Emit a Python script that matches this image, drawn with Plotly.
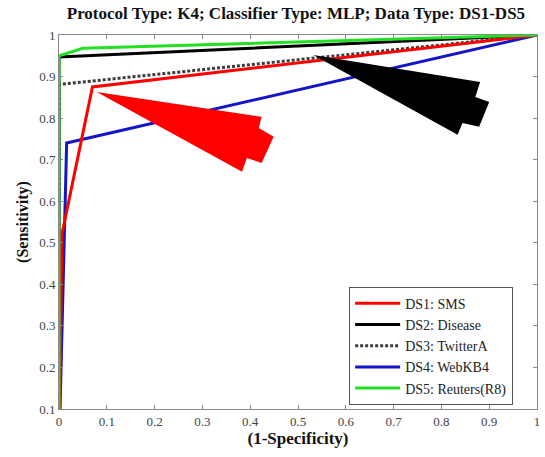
import plotly.graph_objects as go

# ROC curves (1-specificity, sensitivity) per data set
ds1_x = [0.0, 0.006, 0.07, 1.0]
ds1_y = [0.0, 0.52, 0.875, 1.0]
ds2_x = [0.0, 0.0, 1.0]
ds2_y = [0.0, 0.947, 1.0]
ds3_x = [0.0, 0.0, 1.0]
ds3_y = [0.0, 0.881, 1.0]
ds4_x = [0.0, 0.016, 1.0]
ds4_y = [0.0, 0.74, 1.0]
ds5_x = [0.0, 0.0, 0.05, 1.0]
ds5_y = [0.0, 0.95, 0.968, 1.0]

names = ["DS1: SMS", "DS2: Disease", "DS3: TwitterA", "DS4: WebKB4", "DS5: Reuters(R8)"]

# Pointer shapes (data coordinates)
red_arrow_x = [0.079, 0.424, 0.418, 0.449, 0.424, 0.393, 0.383, 0.079]
red_arrow_y = [0.863, 0.803, 0.776, 0.755, 0.692, 0.704, 0.671, 0.863]
black_arrow_x = [0.532, 0.881, 0.871, 0.900, 0.879, 0.844, 0.834, 0.532]
black_arrow_y = [0.952, 0.887, 0.851, 0.839, 0.779, 0.788, 0.760, 0.952]

x_ticks = [0, 0.1, 0.2, 0.3, 0.4, 0.5, 0.6, 0.7, 0.8, 0.9, 1]
x_tick_text = ["0", "0.1", "0.2", "0.3", "0.4", "0.5", "0.6", "0.7", "0.8", "0.9", "1"]
y_ticks = [0.1, 0.2, 0.3, 0.4, 0.5, 0.6, 0.7, 0.8, 0.9, 1]
y_tick_text = ["0.1", "0.2", "0.3", "0.4", "0.5", "0.6", "0.7", "0.8", "0.9", "1"]

SERIF = "Liberation Serif, Times New Roman, serif"

fig = go.Figure()

series = [
    (ds3_x, ds3_y, names[2], dict(color="#3c3c3c", width=3, dash="3px,2px"), 3),
    (ds2_x, ds2_y, names[1], dict(color="#000000", width=3), 2),
    (ds4_x, ds4_y, names[3], dict(color="#1414c8", width=3), 4),
    (ds1_x, ds1_y, names[0], dict(color="#ff0000", width=3), 1),
    (ds5_x, ds5_y, names[4], dict(color="#22e022", width=3), 5),
]
for xs, ys, nm, ln, rank in series:
    fig.add_trace(go.Scatter(x=xs, y=ys, mode="lines", name=nm, line=ln,
                             legendrank=rank))

for ax, ay, col in [(red_arrow_x, red_arrow_y, "#ff0000"),
                    (black_arrow_x, black_arrow_y, "#000000")]:
    fig.add_trace(go.Scatter(x=ax, y=ay, mode="lines", fill="toself",
                             fillcolor=col, line=dict(width=0, color=col),
                             showlegend=False, hoverinfo="skip"))

fig.update_layout(
    width=545, height=457, autosize=False,
    margin=dict(l=59, r=5, t=35, b=48),
    paper_bgcolor="white", plot_bgcolor="white",
    font=dict(family=SERIF, size=12, color="#333333"),
    title=dict(text="<b>Protocol Type: K4; Classifier Type: MLP; Data Type: DS1-DS5</b>",
               x=0.543, xanchor="center", y=0.972, yanchor="middle",
               font=dict(family=SERIF, size=17, color="#111111")),
    legend=dict(x=0.607, y=0.327, xanchor="left", yanchor="top",
                bgcolor="white", bordercolor="#555555", borderwidth=1,
                font=dict(family=SERIF, size=14, color="#222222"),
                itemwidth=45, tracegroupgap=0),
    showlegend=True,
)
fig.update_xaxes(range=[0, 1], tickvals=x_ticks, ticktext=x_tick_text,
                 showgrid=False, zeroline=False, showline=True, mirror="ticks",
                 linecolor="#888888", linewidth=1, ticks="inside", ticklen=4,
                 tickcolor="#888888", tickfont=dict(size=13, color="#444444"),
                 title=dict(text="<b>(1-Specificity)</b>", standoff=2,
                            font=dict(family=SERIF, size=17, color="#111111")))
fig.update_yaxes(range=[0.1, 1], tickvals=y_ticks, ticktext=y_tick_text,
                 showgrid=False, zeroline=False, showline=True, mirror="ticks",
                 linecolor="#888888", linewidth=1, ticks="inside", ticklen=4,
                 tickcolor="#888888", tickfont=dict(size=13, color="#444444"),
                 title=dict(text="<b>(Sensitivity)</b>", standoff=6,
                            font=dict(family=SERIF, size=16, color="#111111")))

fig.write_html("out.html")
